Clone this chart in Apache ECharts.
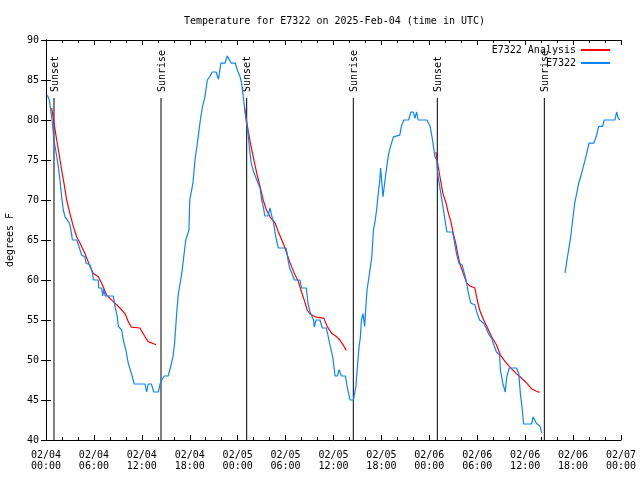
<!DOCTYPE html>
<html>
<head>
<meta charset="utf-8">
<script src="https://cdn.jsdelivr.net/npm/echarts@6/dist/echarts.min.js"></script>
<style>html,body{margin:0;padding:0;background:#fff;}#c{width:640px;height:480px;}</style>
</head>
<body>
<div id="c"></div>
<script>
// ---- data (hours since 2025-02-04 00:00 UTC, degrees F) ----
const titleText = 'Temperature for E7322 on 2025-Feb-04 (time in UTC)';
const xTickLabels = ['02/04\n00:00','02/04\n06:00','02/04\n12:00','02/04\n18:00','02/05\n00:00','02/05\n06:00','02/05\n12:00','02/05\n18:00','02/06\n00:00','02/06\n06:00','02/06\n12:00','02/06\n18:00','02/07\n00:00'];
const eventHours = [1.0, 14.4, 25.13, 38.48, 49.0, 62.4];
const eventNames = ['Sunset','Sunrise','Sunset','Sunrise','Sunset','Sunrise'];

const obsHours = [0.17,0.42,0.58,0.75,0.88,1.0,1.21,1.54,1.75,1.96,2.17,2.38,2.8,3.0,3.2,3.3,3.84,4.05,4.26,4.47,4.88,5.01,5.51,5.84,5.93,6.55,6.6,6.97,7.1,7.25,7.4,8.43,8.64,8.93,9.06,9.47,9.68,10.0,10.3,10.7,11.06,12.4,12.6,12.8,13.2,13.5,14.06,14.36,14.8,15.3,15.5,15.9,16.1,16.36,16.57,17.0,17.2,17.5,17.9,18.0,18.4,18.7,18.9,19.3,19.6,19.9,20.2,20.5,20.8,21.3,21.6,21.9,22.4,22.7,22.9,23.2,23.7,23.96,24.3,24.5,24.7,24.9,25.1,25.3,25.5,25.7,26.0,26.4,26.8,27.0,27.2,27.4,27.8,28.05,28.2,28.5,28.7,28.9,29.1,30.05,30.2,30.3,30.5,30.8,31.1,31.8,32.0,32.6,32.8,33.06,33.5,33.6,33.8,34.3,34.6,35.1,35.3,35.6,35.9,36.05,36.2,36.5,36.7,37.0,37.5,37.7,37.9,38.07,38.5,38.8,39.0,39.2,39.35,39.5,39.7,39.9,40.07,40.2,40.5,40.8,41.0,41.2,41.4,41.6,41.8,41.9,42.1,42.2,42.45,42.7,42.9,43.2,43.5,43.7,44.3,44.5,44.8,45.4,45.7,46.0,46.2,46.4,46.6,47.7,48.1,48.4,48.7,48.9,49.1,49.3,49.5,49.7,49.9,50.2,50.9,51.1,51.4,51.7,52.1,52.3,52.6,52.9,53.2,53.7,54.0,54.3,54.8,55.1,55.4,55.8,56.0,56.4,56.8,56.9,57.2,57.5,57.7,58.0,58.9,59.2,59.4,59.6,59.8,60.8,61.0,61.2,61.4,61.6,61.86,62.07,63.5,65.0,65.2,65.4,65.7,65.95,66.2,66.45,66.7,66.95,67.2,67.4,67.7,68.0,68.6,68.95,69.2,69.7,69.9,71.25,71.45,71.65,71.9];
const obsTemps = [83.1,82.5,81.25,80,78.75,77.5,76.25,74.2,72.5,70.4,68.75,67.9,67.3,66.9,65.8,65,65,64.4,63.75,63.1,62.9,62.1,61.9,60.8,60,60,59,59,58,58.9,58,58,56.7,55.4,54.2,53.75,52.5,51.25,49.6,48.3,47,47,46,47,47,46,46,47.3,48,48,48.75,50.4,52.1,55.8,58.3,60.8,62.5,65,66.25,70,72.1,75.4,76.7,79.8,81.7,82.9,85,85.4,86,86,85.1,87.1,87.1,88,88,87.1,87.1,86.25,85.4,84.6,82.9,81.25,79.6,78.3,76.25,74.6,73.5,72.5,71.5,70,69.2,68,68,69,68.3,67.1,65.8,64.8,64,64,63.3,62.5,61.5,60.8,60,60,59,59,57.1,56,55,54.1,55,55,54,54,53.1,51.7,50.4,49.2,48,48,48.8,48,48,46.7,45.8,45,45,46.7,49.2,51.7,52.7,55,55.8,54.2,56.9,58.75,60.8,62.9,66.25,67.3,68.75,70.8,72.5,74,74.2,70.4,72.5,74.4,75.8,76.9,77.9,78.1,78.1,79.2,80,80,81,81,80.2,81,80,80,79.2,77.5,75.4,75,72.9,71.7,70.4,69.2,67.9,66,66,65,63.3,62.1,61.9,61.7,60,58.3,57.1,56.9,55.8,55,54.6,54,53.3,52.7,52.1,51,50.6,48.75,47.1,46,47.9,49,49,48.3,45.8,44.2,42,42,42.9,42.9,42.1,42,41.7,40.9,null,60.9,62.3,63.5,65.4,67.5,69.6,70.8,72.1,72.9,73.1,74.6,75.8,77.1,77.1,78.1,79.2,79.2,80,80,81,80.2,80];

const anaHours = [0.71,1.0,1.34,1.63,1.96,2.25,2.59,3.0,3.42,3.84,4.26,4.88,5.51,5.93,6.55,6.97,7.6,8.43,9.26,9.89,10.3,10.7,11.76,12.4,12.8,13.8,19.0,
  24.84,25.1,25.3,25.6,25.95,26.4,26.8,27.2,27.6,28.05,28.7,29.1,29.7,30.1,30.5,31.1,31.6,32.0,32.4,32.7,33.06,33.7,34.3,34.8,35.2,35.8,36.4,36.8,37.2,37.6,43.0,
  48.82,49.1,49.4,49.7,50.1,50.4,50.7,51.0,51.3,51.55,51.8,52.25,52.7,53.1,53.7,54.0,54.3,54.8,55.2,55.8,56.4,56.9,57.5,58.0,58.9,59.35,59.8,60.2,60.8,61.4,61.8];
const anaTemps = [81.5,79.6,77.5,75.8,73.75,72.1,70,68.3,66.7,65.4,64.6,63.3,61.7,60.8,60.4,59.6,58.1,57.3,56.5,55.8,54.8,54.1,54.0,52.9,52.3,51.9,null,
  81.7,80,78.75,77.1,75.4,73.3,71.7,70,68.75,67.9,67.1,66,64.6,63.5,62.3,60.8,59.8,58.5,57.3,56.25,55.75,55.4,55.3,55.2,54.2,53.3,52.9,52.5,51.9,51.2,null,
  76,74.2,72.5,70.8,69.6,68.3,67.3,65.8,64.6,63.3,62.1,60.8,59.6,59.25,59,57.5,56.25,55,54.2,52.9,51.9,50.6,49.8,49.2,48.3,47.9,47.5,47.1,46.4,46.1,45.96];

// ---- chart ----
const FONT = 'DejaVu Sans Mono';
const zip = (a, b) => a.map((v, i) => [v, b[i]]);
const chart = echarts.init(document.getElementById('c'), null, {renderer: 'canvas'});

const xCommon = {
  type: 'value', min: 0, max: 72, interval: 6,
  axisLine: {show: true, lineStyle: {color: '#000', width: 1}},
  axisTick: {show: true, inside: true, length: 5, lineStyle: {color: '#000'}},
  minorTick: {show: true, splitNumber: 3, length: 3, lineStyle: {color: '#000'}},
  splitLine: {show: false}
};
const yCommon = {
  type: 'value', min: 40, max: 90, interval: 5,
  axisLine: {show: true, lineStyle: {color: '#000', width: 1}},
  axisTick: {show: true, inside: true, length: 5, lineStyle: {color: '#000'}},
  splitLine: {show: false}
};

chart.setOption({
  animation: false,
  backgroundColor: '#fff',
  textStyle: {fontFamily: FONT},
  title: {
    text: titleText, left: 179, top: 11,
    textStyle: {fontFamily: FONT, fontSize: 10, fontWeight: 'normal', color: '#000'}
  },
  legend: {
    orient: 'vertical', right: 30, top: 44, align: 'right', padding: 0,
    itemWidth: 29, itemHeight: 2, itemGap: 1, icon: 'rect',
    selectedMode: false,
    textStyle: {fontFamily: FONT, fontSize: 10, color: '#000', lineHeight: 12},
    data: ['E7322 Analysis', 'E7322']
  },
  grid: {left: 46, right: 19, top: 40, bottom: 40, containLabel: false, outerBoundsMode: 'none'},
  xAxis: [
    Object.assign({}, xCommon, {
      position: 'bottom',
      axisLabel: {
        show: true, margin: 10, color: '#000', fontFamily: FONT, fontSize: 10, lineHeight: 11,
        formatter: v => xTickLabels[Math.round(v / 6)] || ''
      }
    }),
    Object.assign({}, xCommon, {position: 'top', axisLabel: {show: false}})
  ],
  yAxis: [
    Object.assign({}, yCommon, {
      position: 'left',
      name: 'degrees F', nameLocation: 'middle', nameGap: 31, nameRotate: 90,
      nameTextStyle: {fontFamily: FONT, fontSize: 10, color: '#000'},
      axisLabel: {show: true, margin: 7, color: '#000', fontFamily: FONT, fontSize: 10}
    }),
    Object.assign({}, yCommon, {position: 'right', axisLabel: {show: false}})
  ],
  series: [
    {
      type: 'custom', name: 'events', xAxisIndex: 0, yAxisIndex: 0, z: 1,
      data: eventHours.map(h => [h, 40]),
      encode: {x: 0, y: 1},
      silent: true,
      renderItem: function (params, api) {
        const h = api.value(0);
        const top = api.coord([h, 82.75]);
        const bot = api.coord([h, 40]);
        return {
          type: 'group',
          children: [
            {type: 'line', shape: {x1: top[0], y1: top[1], x2: bot[0], y2: bot[1]},
             style: {stroke: '#000', lineWidth: 1}},
            {type: 'text', x: top[0] + 1, y: top[1] - 6, rotation: Math.PI / 2,
             style: {text: eventNames[params.dataIndex], align: 'left', verticalAlign: 'middle',
                     font: '10px ' + FONT, fill: '#000'}}
          ]
        };
      }
    },
    {
      type: 'line', name: 'E7322 Analysis', color: '#ff0000', z: 2,
      data: zip(anaHours, anaTemps),
      showSymbol: false, symbol: 'none', connectNulls: false,
      lineStyle: {width: 1.2, color: '#ff0000'}, emphasis: {disabled: true}
    },
    {
      type: 'line', name: 'E7322', color: '#0a84ff', z: 3,
      data: zip(obsHours, obsTemps),
      showSymbol: false, symbol: 'none', connectNulls: false,
      lineStyle: {width: 1.2, color: '#0a84ff'}, emphasis: {disabled: true}
    }
  ]
});
</script>
</body>
</html>
